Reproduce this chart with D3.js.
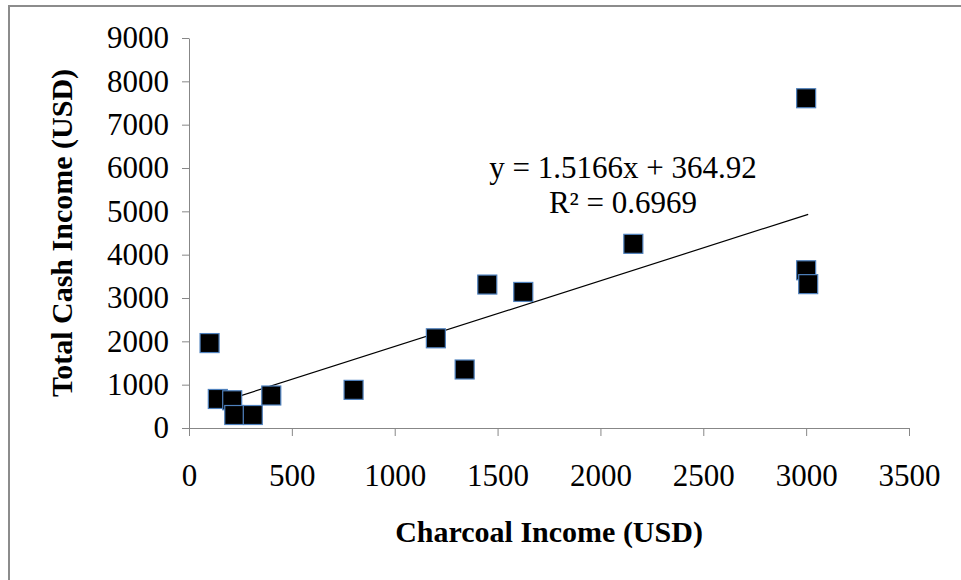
<!DOCTYPE html>
<html>
<head>
<meta charset="utf-8">
<script src="https://cdn.jsdelivr.net/npm/d3@7"></script>
<style>
  body { margin: 0; background: #fff; }
  svg { display: block; }
</style>
</head>
<body>
<div id="graph"></div>
<script>
// charcoal income vs total cash income
var charcoal = [100, 140, 210, 220, 310, 400, 800, 1200, 1340, 1450, 1625, 2160, 3000, 3000, 3010];
var cash     = [1960, 670, 640, 300, 300, 750, 880, 2070, 1350, 3310, 3140, 4250, 7610, 3640, 3320];
var xTicks = [0, 500, 1000, 1500, 2000, 2500, 3000, 3500];
var yTicks = [0, 1000, 2000, 3000, 4000, 5000, 6000, 7000, 8000, 9000];
// linear trend as printed on the chart
var slope = 1.5166, intercept = 364.92;
var eqLabels = ["y = 1.5166x + 364.92", "R\u00b2 = 0.6969"];

var width = 961, height = 580;
var axisColor = "#878787";
var serif = "'Liberation Serif', 'Times New Roman', serif";

var svg = d3.select("#graph").append("svg")
    .attr("width", width)
    .attr("height", height);

// outer frame (only top and left visible)
svg.append("rect")
    .attr("x", 9).attr("y", 6)
    .attr("width", 1000).attr("height", 700)
    .attr("fill", "none")
    .attr("stroke", "#8c8c8c")
    .attr("stroke-width", 2);

var x = d3.scaleLinear().domain([0, 3500]).range([189, 909]);
var y = d3.scaleLinear().domain([0, 9000]).range([428, 38]);
var fmt = d3.format("d");

var xAxis = svg.append("g")
    .attr("transform", "translate(0," + y(0) + ")")
    .call(d3.axisBottom(x).tickValues(xTicks).tickFormat(fmt)
        .tickSize(8).tickSizeOuter(0).tickPadding(28));

var yAxis = svg.append("g")
    .attr("transform", "translate(" + x(0) + ",0)")
    .call(d3.axisLeft(y).tickValues(yTicks).tickFormat(fmt)
        .tickSize(7).tickSizeOuter(0).tickPadding(13));

[xAxis, yAxis].forEach(function(g) {
    g.selectAll("path, line").attr("stroke", axisColor);
    g.selectAll("text")
        .attr("fill", "#000")
        .style("font-family", serif)
        .style("font-size", "31px");
});

// trend line over the data range
var x0 = d3.min(charcoal), x1 = d3.max(charcoal);
svg.append("line")
    .attr("x1", x(x0)).attr("y1", y(slope * x0 + intercept))
    .attr("x2", x(x1)).attr("y2", y(slope * x1 + intercept))
    .attr("stroke", "#000")
    .attr("stroke-width", 1.2);

// markers
var pts = charcoal.map(function(v, i) { return [v, cash[i]]; });
var s = 19;
svg.selectAll("rect.pt")
    .data(pts)
    .enter()
    .append("rect")
    .attr("class", "pt")
    .attr("x", function(d) { return x(d[0]) - s / 2; })
    .attr("y", function(d) { return y(d[1]) - s / 2; })
    .attr("width", s)
    .attr("height", s)
    .attr("fill", "#000")
    .attr("stroke", "#4f81bd")
    .attr("stroke-width", 1.2);

// equation
svg.selectAll("text.eq")
    .data(eqLabels)
    .enter()
    .append("text")
    .attr("class", "eq")
    .attr("x", 623)
    .attr("y", function(d, i) { return 178 + i * 35; })
    .attr("text-anchor", "middle")
    .style("font-family", serif)
    .style("font-size", "31px")
    .text(function(d) { return d; });

// axis titles
svg.append("text")
    .attr("x", (x(0) + x(3500)) / 2)
    .attr("y", 542)
    .attr("text-anchor", "middle")
    .style("font-family", serif)
    .style("font-size", "30px")
    .style("font-weight", "bold")
    .text("Charcoal Income (USD)");

svg.append("text")
    .attr("transform", "translate(72," + (y(0) + y(9000)) / 2 + ") rotate(-90)")
    .attr("text-anchor", "middle")
    .style("font-family", serif)
    .style("font-size", "30px")
    .style("font-weight", "bold")
    .text("Total Cash Income (USD)");
</script>
</body>
</html>
